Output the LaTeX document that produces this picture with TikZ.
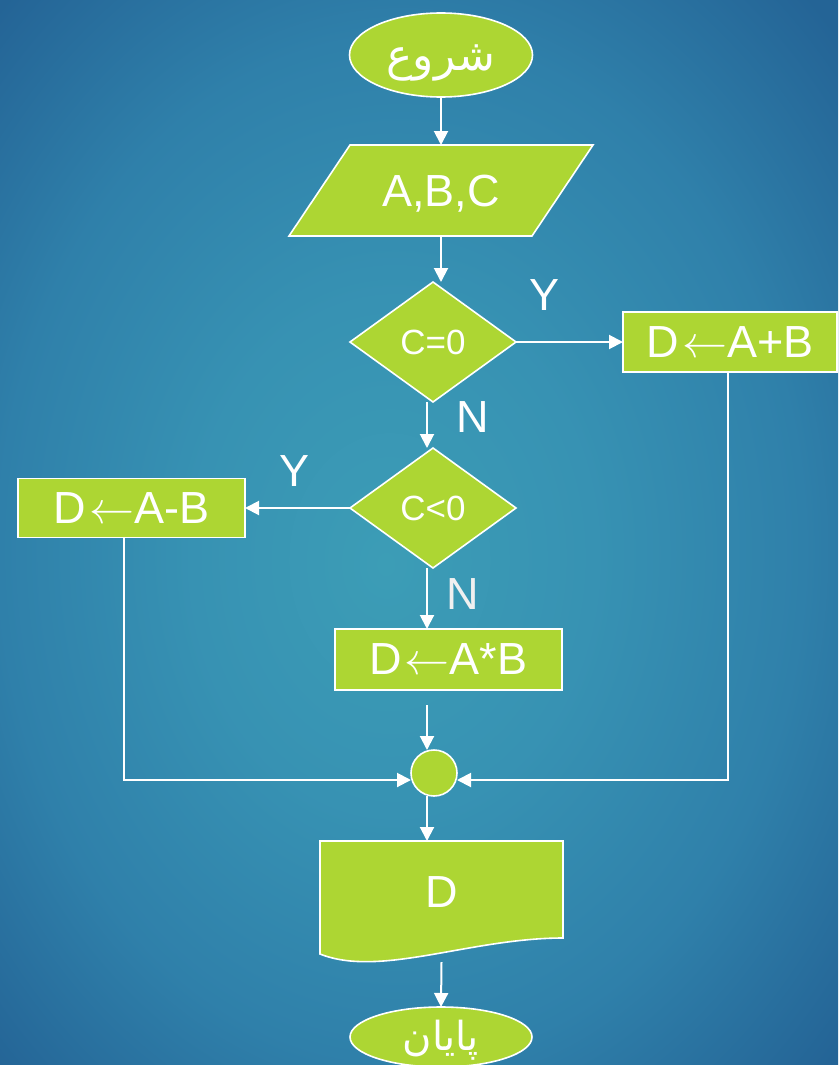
\RequirePackage{fix-cm}
\documentclass[tikz,border=0pt]{standalone}
\usepackage{fontspec}
\setmainfont{Liberation Sans}
\newfontfamily\arabicfont[Script=Arabic]{DejaVu Sans}
\TeXXeTstate=1
\usetikzlibrary{shapes.geometric,arrows.meta,calc}
\definecolor{fillg}{RGB}{173,214,51}
\definecolor{bgA}{RGB}{60,157,182}
\definecolor{bgB}{RGB}{55,146,179}
\definecolor{bgC}{RGB}{47,128,170}
\definecolor{bgD}{RGB}{36,100,150}
\pgfdeclareradialshading{bgshade}{\pgfpoint{-2bp}{-1.5bp}}{color(0bp)=(bgA); color(12bp)=(bgB); color(24bp)=(bgC); color(35bp)=(bgD); color(50bp)=(bgD)}
\pgfdeclarelayer{bglayer}
\pgfdeclarelayer{shapelayer}
\pgfsetlayers{bglayer,shapelayer,main}
\newcommand\fsbig{\fontsize{45}{54}\selectfont}
\newcommand\fsmid{\fontsize{35}{42}\selectfont}
\newcommand\larr{\hspace{3pt}$\leftarrow$\hspace{0pt}}
\newcommand\lowerby[2]{\raisebox{0pt}[\dimexpr\height+#1\relax][\depth]{#2}}
\begin{document}
\begin{tikzpicture}[x=1pt,y=-1pt,
  every node/.style={text=white, inner sep=0pt, outer sep=0pt},
  flow/.style={fill=fillg, draw=white, line width=1.6pt},
  arr/.style={draw=white, line width=2pt, -{Triangle[width=14pt,length=14pt]}},
  box/.style={rectangle, flow, font=\fsbig},
  dec/.style={diamond, flow, minimum width=166pt, minimum height=120pt, font=\fsmid},
  lbl/.style={font=\fsbig}]
\begin{pgfonlayer}{bglayer}
\shade[shading=bgshade] (0,0) rectangle (838,1065);
\end{pgfonlayer}
\useasboundingbox (0,0) rectangle (838,1065);

% nodes
\node[ellipse, flow, minimum width=183pt, minimum height=84pt, font=\arabicfont\fontsize{44}{48}\selectfont] (start) at (441,55) {\lowerby{16pt}{\beginR شروع\endR}};
\node[minimum width=304pt, minimum height=91pt, text depth=0pt, font=\fsbig] (io) at (441,190.5) {A,B,C};
\node[dec] (c0) at (433,342) {C=0};
\node[box, minimum width=214pt, minimum height=60pt] (plus) at (730,342) {D\larr A+B};
\node[dec] (c1) at (433,508) {C<0};
\node[box, minimum width=227pt, minimum height=59pt] (minus) at (131.5,508) {D\larr A-B};
\node[box, minimum width=227pt, minimum height=61pt] (prod) at (448.5,659.5) {D\larr A*B};
\node[circle, flow, minimum size=46pt] (j) at (434,773) {};
\node[minimum width=243pt, minimum height=97pt, font=\fsbig] (doc) at (441.5,889.5) {\lowerby{5pt}{D}};
\node[ellipse, flow, inner sep=-10pt, minimum width=182pt, minimum height=60pt, font=\arabicfont\fontsize{40}{44}\selectfont] (end) at (441,1037) {\lowerby{7pt}{\beginR پایان\endR}};

% shapes drawn behind their texts
\begin{pgfonlayer}{shapelayer}
\path[flow] ([xshift=61pt]io.north west) -- (io.north east) -- ([xshift=-61pt]io.south east) -- (io.south west) -- cycle;
\path[flow] (doc.north west) -- (doc.north east) -- (doc.south east)
  .. controls ([xshift=-93pt]doc.south east) and ([shift={(60pt,-40pt)}]doc.south west) .. ([yshift=-16pt]doc.south west) -- cycle;
\end{pgfonlayer}

% labels
\node[lbl] (y1) at (545,295) {Y};
\node[lbl] (n1) at (473,417) {N};
\node[lbl] (y2) at (295,471) {Y};
\node[lbl, text=white!88!gray] (n2) at (463,594) {N};

% connectors
\draw[arr] (start.south) -- (io.north);
\draw[arr] (io.south) -- (io.south |- c0.north);
\draw[arr] (c0.east) -- (plus.west);
\draw[arr] ([xshift=-6pt]c0.south) -- ([xshift=-6pt]c0.south |- c1.north);
\draw[arr] (c1.west) -- (minus.east);
\draw[arr] ([xshift=-6pt]c1.south) -- ([xshift=-6pt]c1.south |- prod.north);
\coordinate (p1) at ([xshift=-7pt]j.north |- prod.south);
\draw[arr] ([yshift=-15pt]p1) -- ([xshift=-7pt]j.north);
\draw[arr] ([xshift=-8pt]minus.south) |- ([yshift=-7pt]j.west);
\draw[arr] ([xshift=-2pt]plus.south) |- ([yshift=-7pt]j.east);
\draw[arr] ([xshift=-7pt]j.south) -- ([xshift=-7pt]j.south |- doc.north);
\draw[arr] ([yshift=-24pt]doc.south) -- (end.north);
\end{tikzpicture}
\end{document}
